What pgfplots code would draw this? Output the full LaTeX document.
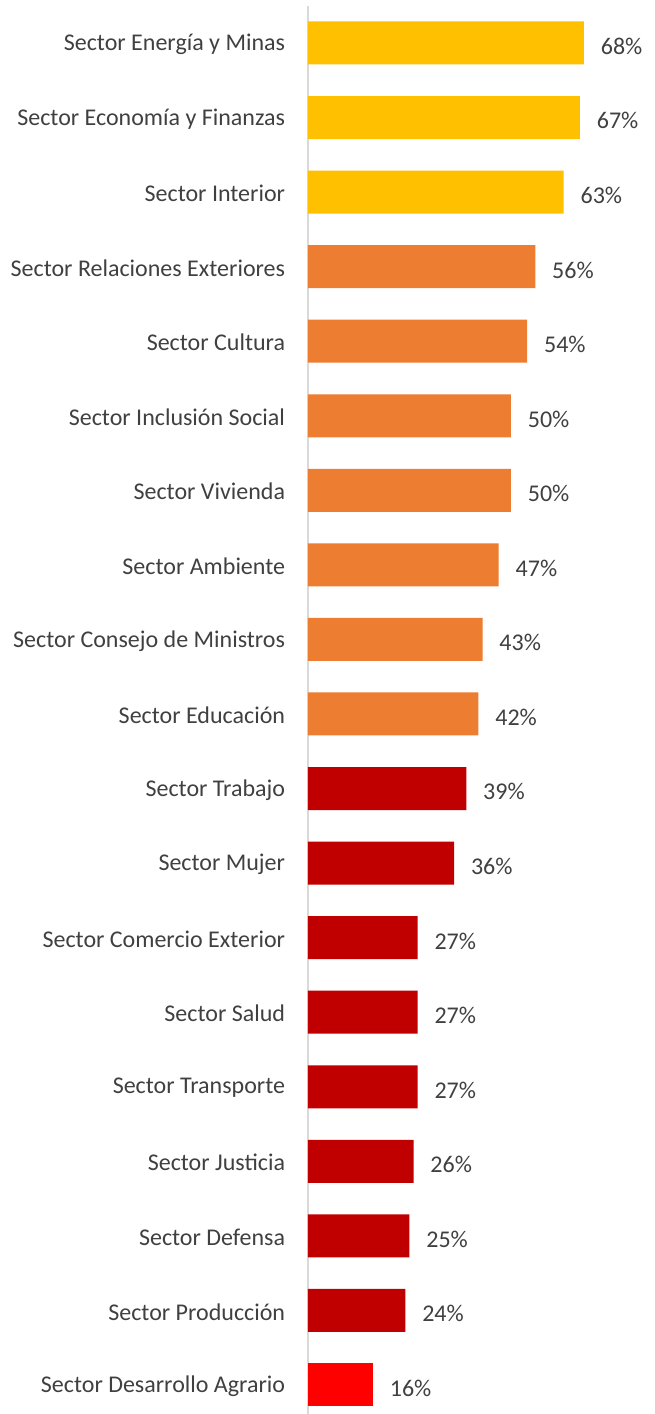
\documentclass[border=0pt]{standalone}
\usepackage{pgfplots}
\pgfplotsset{compat=1.18}
\usepackage{fontspec}
\setmainfont{Carlito}
\definecolor{gold}{HTML}{FFC000}
\definecolor{orng}{HTML}{ED7D31}
\definecolor{dred}{HTML}{C00000}
\definecolor{brred}{HTML}{FF0000}
\definecolor{txt}{HTML}{404040}
\definecolor{axl}{HTML}{D9D9D9}
\begin{document}
\begin{tikzpicture}
\begin{axis}[
  at={(0,0)}, anchor=south west,
  scale only axis, width=260.25pt, height=1056pt,
  xmin=0, xmax=85.5, ymin=-0.389, ymax=18.496,
  xbar, bar width=32.25pt, bar shift=0pt,
  axis x line=none, axis y line*=left,
  y axis line style={draw=axl, line width=1.4pt},
  ytick={0,...,18},
  yticklabels={Sector Desarrollo Agrario, Sector Producción, Sector Defensa, Sector Justicia, Sector Transporte, Sector Salud, Sector Comercio Exterior, Sector Mujer, Sector Trabajo, Sector Educación, Sector Consejo de Ministros, Sector Ambiente, Sector Vivienda, Sector Inclusión Social, Sector Cultura, Sector Relaciones Exteriores, Sector Interior, Sector Economía y Finanzas, Sector Energía y Minas},
  major tick length=0pt,
  ytick style={draw=none},
  yticklabel style={font=\fontsize{18}{21}\selectfont, text=txt, inner sep=0pt, anchor=east, xshift=-17pt, yshift=-1pt},
  nodes near coords={\pgfplotspointmeta\%},
  point meta=explicit symbolic,
  nodes near coords style={anchor=west, inner sep=0pt, xshift=12.5pt, yshift=-2.5pt, font=\fontsize{18}{21}\selectfont, text=txt},
  clip=false,
]
\addplot[fill=gold, draw=none] coordinates {(68,18) [68] (67,17) [67] (63,16) [63]};
\addplot[fill=orng, draw=none] coordinates {(56,15) [56] (54,14) [54] (50,13) [50] (50,12) [50] (47,11) [47] (43,10) [43] (42,9) [42]};
\addplot[fill=dred, draw=none] coordinates {(39,8) [39] (36,7) [36] (27,6) [27] (27,5) [27] (27,4) [27] (26,3) [26] (25,2) [25] (24,1) [24]};
\addplot[fill=brred, draw=none] coordinates {(16,0) [16]};
\end{axis}
\pgfresetboundingbox
\path[use as bounding box] (-231pt,0pt) rectangle (260.25pt,1060.5pt);
\end{tikzpicture}
\end{document}
